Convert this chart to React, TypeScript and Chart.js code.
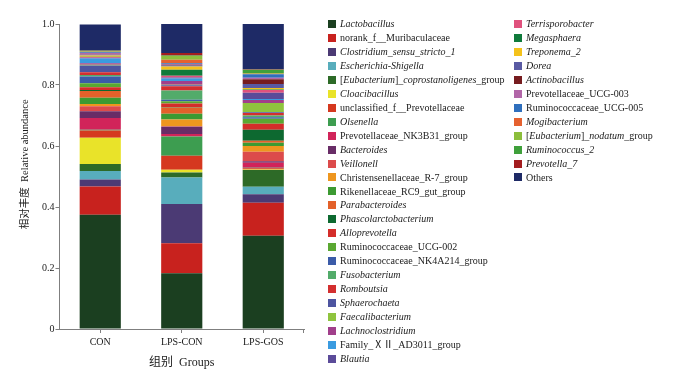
import React, { useEffect, useRef } from 'react';
import { Chart, registerables } from 'chart.js';

Chart.register(...registerables);

const groups = ['CON', 'LPS-CON', 'LPS-GOS'];

const taxa = [
  'Lactobacillus',
  'norank_f__Muribaculaceae',
  'Clostridium_sensu_stricto_1',
  'Escherichia-Shigella',
  '[Eubacterium]_coprostanoligenes_group',
  'Cloacibacillus',
  'unclassified_f__Prevotellaceae',
  'Olsenella',
  'Prevotellaceae_NK3B31_group',
  'Bacteroides',
  'Veillonell',
  'Christensenellaceae_R-7_group',
  'Rikenellaceae_RC9_gut_group',
  'Parabacteroides',
  'Phascolarctobacterium',
  'Alloprevotella',
  'Ruminococcaceae_UCG-002',
  'Ruminococcaceae_NK4A214_group',
  'Fusobacterium',
  'Romboutsia',
  'Sphaerochaeta',
  'Faecalibacterium',
  'Lachnoclostridium',
  'Family_ⅩⅡ_AD3011_group',
  'Blautia',
  'Terrisporobacter',
  'Megasphaera',
  'Treponema_2',
  'Dorea',
  'Actinobacillus',
  'Prevotellaceae_UCG-003',
  'Ruminococcaceae_UCG-005',
  'Mogibacterium',
  '[Eubacterium]_nodatum_group',
  'Ruminococcus_2',
  'Prevotella_7',
  'Others',
];

const italicTaxa = [
  'Lactobacillus', 'Clostridium_sensu_stricto_1', 'Escherichia-Shigella', 'Cloacibacillus',
  'Olsenella', 'Bacteroides', 'Veillonell', 'Parabacteroides', 'Phascolarctobacterium',
  'Alloprevotella', 'Fusobacterium', 'Romboutsia', 'Sphaerochaeta', 'Faecalibacterium',
  'Lachnoclostridium', 'Blautia', 'Terrisporobacter', 'Megasphaera', 'Treponema_2', 'Dorea',
  'Actinobacillus', 'Mogibacterium', 'Ruminococcus_2', 'Prevotella_7',
];

const colors = [
  '#1b3f20', '#c8221e', '#4b3a74', '#58adbc', '#2d6a27', '#e9e329', '#d5381f', '#3d9d50',
  '#d1245a', '#682c66', '#dc4b4b', '#ee961f', '#3c9a32', '#e3612a', '#0d6930', '#d42d2a',
  '#5aa832', '#3b5ba8', '#52ab6a', '#d32f2f', '#4d54a0', '#8fc43e', '#a13f8b', '#3a9be0',
  '#5b4b99', '#e0517d', '#0f7a3b', '#f4c21b', '#595aa3', '#761c1f', '#b266a8', '#2f6fbd',
  '#e5612f', '#8cbe3c', '#3fa03b', '#a31c1f', '#1e2a66',
];

const conValues = [
  0.375, 0.092, 0.023, 0.028, 0.023, 0.086, 0.024, 0.002, 0.039, 0.022, 0.016, 0.008,
  0.020, 0.022, 0.004, 0.009, 0.013, 0.022, 0.005, 0.009, 0.022, 0.002, 0.005, 0.016,
  0.002, 0.003, 0.001, 0.004, 0.002, 0.001, 0.005, 0.002, 0.002, 0.001, 0.002, 0.001,
  0.085,
];

const lpsConValues = [
  0.183, 0.098, 0.129, 0.087, 0.016, 0.009, 0.046, 0.063, 0.008, 0.024, 0.002, 0.022,
  0.019, 0.020, 0.002, 0.011, 0.008, 0.005, 0.030, 0.014, 0.003, 0.002, 0.012, 0.008,
  0.004, 0.005, 0.020, 0.011, 0.003, 0.002, 0.003, 0.002, 0.012, 0.012, 0.002, 0.008,
  0.095,
];

const lpsGosValues = [
  0.306, 0.108, 0.028, 0.024, 0.055, 0.002, 0.004, 0.002, 0.016, 0.005, 0.031, 0.019,
  0.011, 0.006, 0.036, 0.020, 0.016, 0.005, 0.006, 0.008, 0.003, 0.030, 0.010, 0.003,
  0.021, 0.009, 0.001, 0.005, 0.013, 0.016, 0.005, 0.011, 0.002, 0.002, 0.011, 0.002,
  0.148,
];

const yTickLabels = ['0', '0.2', '0.4', '0.6', '0.8', '1.0'];
const xTitle = '组别  Groups';
const yTitle = '相对丰度  Relative abundance';

const FAMILY = '"Liberation Serif", "Noto Sans CJK SC", serif';
const AXIS_COLOR = '#7f7f7f';
const TEXT_COLOR = '#1a1a1a';

function segmentsFor(name: string): [string, boolean][] {
  if (name.startsWith('[Eubacterium]_')) {
    const rest = name.slice('[Eubacterium]_'.length);
    const core = rest.replace(/_group$/, '');
    return [
      ['[', false],
      ['Eubacterium', true],
      [']_', false],
      [core, true],
      ['_group', false],
    ];
  }
  return [[name, italicTaxa.includes(name)]];
}

const legendPlugin = {
  id: 'customLegend',
  afterDraw(chart: any) {
    const ctx = chart.ctx as CanvasRenderingContext2D;
    const area = chart.chartArea;
    const perCol = 25;
    const step = 13.95;
    ctx.save();
    ctx.textBaseline = 'middle';
    ctx.textAlign = 'left';
    taxa.forEach((name, i) => {
      const col = i < perCol ? 0 : 1;
      const row = col === 0 ? i : i - perCol;
      const boxX = area.right + (col === 0 ? 24 : 210);
      const cy = area.top + row * step;
      ctx.fillStyle = colors[i];
      ctx.fillRect(boxX, Math.round(cy - 4), 8, 8);
      let x = boxX + 12;
      for (const [text, italic] of segmentsFor(name)) {
        ctx.font = `${italic ? 'italic ' : ''}10px ${FAMILY}`;
        ctx.fillStyle = TEXT_COLOR;
        ctx.fillText(text, x, cy + 0.5);
        x += ctx.measureText(text).width;
      }
    });

    // y-axis title
    ctx.save();
    ctx.translate(17, area.top + (area.bottom - area.top) * 0.46);
    ctx.rotate(-Math.PI / 2);
    ctx.textAlign = 'center';
    ctx.textBaseline = 'middle';
    ctx.font = `10.5px ${FAMILY}`;
    ctx.fillStyle = TEXT_COLOR;
    ctx.fillText(yTitle, 0, 0);
    ctx.restore();

    // end tick on the x axis
    ctx.strokeStyle = AXIS_COLOR;
    ctx.lineWidth = 1;
    ctx.beginPath();
    const ex = Math.round(area.right) - 0.5;
    ctx.moveTo(ex, area.bottom);
    ctx.lineTo(ex, area.bottom + 4);
    ctx.stroke();

    ctx.restore();
  },
};

export default function App() {
  const ref = useRef<HTMLCanvasElement>(null);

  useEffect(() => {
    if (!ref.current) return;
    const valueSets = [conValues, lpsConValues, lpsGosValues];
    const datasets = taxa.map((name, i) => ({
      label: name,
      data: valueSets.map((vals) => vals[i]),
      backgroundColor: colors[i],
      borderWidth: 0,
      barPercentage: 0.505,
      categoryPercentage: 1,
    }));

    const chart = new Chart(ref.current, {
      type: 'bar',
      data: { labels: groups, datasets },
      plugins: [legendPlugin],
      options: {
        responsive: false,
        animation: false,
        layout: { padding: { top: 16, right: 388, left: 0, bottom: 0 } },
        plugins: {
          legend: { display: false },
          tooltip: { enabled: false },
        },
        scales: {
          x: {
            stacked: true,
            offset: true,
            grid: {
              offset: false,
              drawOnChartArea: false,
              drawTicks: true,
              tickLength: 4,
              color: AXIS_COLOR,
            },
            border: { display: true, color: AXIS_COLOR, width: 1 },
            ticks: {
              font: { family: FAMILY, size: 10 },
              color: TEXT_COLOR,
              padding: 3,
              maxRotation: 0,
            },
            title: {
              display: true,
              text: xTitle,
              font: { family: FAMILY, size: 12, lineHeight: 1 },
              color: TEXT_COLOR,
              padding: { top: 0, bottom: 0 },
            },
            afterFit: (s: any) => {
              s.height = 40;
            },
          },
          y: {
            stacked: true,
            min: 0,
            max: 1,
            grid: {
              drawOnChartArea: false,
              drawTicks: true,
              tickLength: 4,
              color: AXIS_COLOR,
            },
            border: { display: true, color: AXIS_COLOR, width: 1 },
            ticks: {
              stepSize: 0.2,
              font: { family: FAMILY, size: 10 },
              color: TEXT_COLOR,
              padding: 1,
              callback: (_v: any, i: number) => yTickLabels[i],
            },
            title: { display: false },
            afterFit: (s: any) => {
              s.width = 51.5;
            },
          },
        },
      } as any,
    });
    return () => chart.destroy();
  }, []);

  return <canvas ref={ref} width={684} height={361} style={{ display: 'block' }} />;
}
